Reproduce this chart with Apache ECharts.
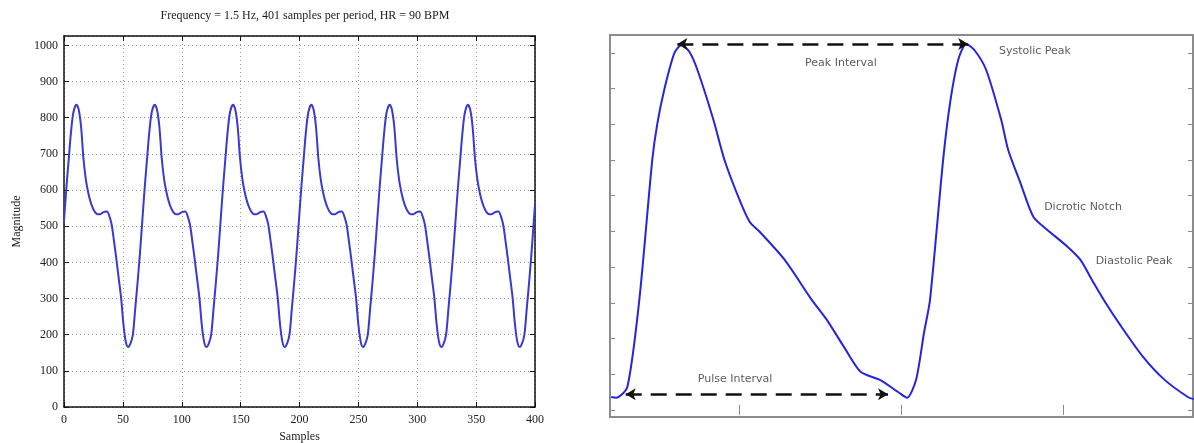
<!DOCTYPE html>
<html>
<head>
<meta charset="utf-8">
<script src="https://cdn.jsdelivr.net/npm/echarts@6/dist/echarts.min.js"></script>
<style>
html,body{margin:0;padding:0;background:#fff;}
#chart{width:1194px;height:443px;}
</style>
</head>
<body>
<div id="chart"></div>
<script>
// ---------- Left panel: synthetic PPG, 6 pulses over 400 samples ----------
const leftTitle = 'Frequency = 1.5 Hz, 401 samples per period, HR = 90 BPM';
const samples = [0,2,4,6,8,
10.5,12.5,14.5,16.5,18.5,20.5,22.5,24.5,26.5,28.5,30.5,32.5,34.5,36.5,38.5,40.5,42.5,44.5,46.5,48.5,50.5,52.5,54.5,56.5,58.5,60.5,62.5,64.5,66.5,68.5,70.5,72.5,74.5,
77,79,81,83,85,87,89,91,93,95,97,99,101,103,105,107,109,111,113,115,117,119,121,123,125,127,129,131,133,135,137,139,141,
143.5,145.5,147.5,149.5,151.5,153.5,155.5,157.5,159.5,161.5,163.5,165.5,167.5,169.5,171.5,173.5,175.5,177.5,179.5,181.5,183.5,185.5,187.5,189.5,191.5,193.5,195.5,197.5,199.5,201.5,203.5,205.5,207.5,
210,212,214,216,218,220,222,224,226,228,230,232,234,236,238,240,242,244,246,248,250,252,254,256,258,260,262,264,266,268,270,272,274,
276.5,278.5,280.5,282.5,284.5,286.5,288.5,290.5,292.5,294.5,296.5,298.5,300.5,302.5,304.5,306.5,308.5,310.5,312.5,314.5,316.5,318.5,320.5,322.5,324.5,326.5,328.5,330.5,332.5,334.5,336.5,338.5,340.5,
343,345,347,349,351,353,355,357,359,361,363,365,367,369,371,373,375,377,379,381,383,385,387,389,391,393,395,397,399,400];
const magnitude = [515,605,685,762,815,
836,822,775,688,630,594,568,550,538,533,533,537,540,541,528,504,458,408,355,302,228,180,166,176,200,272,345,425,515,605,685,762,815,
836,822,775,688,630,594,568,550,538,533,533,537,540,541,528,504,458,408,355,302,228,180,166,176,200,272,345,425,515,605,685,762,815,
836,822,775,688,630,594,568,550,538,533,533,537,540,541,528,504,458,408,355,302,228,180,166,176,200,272,345,425,515,605,685,762,815,
836,822,775,688,630,594,568,550,538,533,533,537,540,541,528,504,458,408,355,302,228,180,166,176,200,272,345,425,515,605,685,762,815,
836,822,775,688,630,594,568,550,538,533,533,537,540,541,528,504,458,408,355,302,228,180,166,176,200,272,345,425,515,605,685,762,815,
836,822,775,688,630,594,568,550,538,533,533,537,540,541,528,504,458,408,355,302,228,180,166,176,200,272,345,425,515,560];
const leftXMax = 400;
const leftYMax = 1026;

// ---------- Right panel: annotated PPG pulse ----------
const rightX = [0.207,0.238,0.307,0.381,0.461,0.492,0.536,0.598,0.641,0.69,0.740,0.839,0.907,1.0,1.062,1.124,1.279,1.446,1.539,1.656,1.749,1.867,1.985,2.034,2.090,2.139,2.176,2.257,2.300,2.350,2.399,2.45,2.523,2.616,2.659,2.734,2.814,2.901,3.025,3.105,3.186,3.26,3.347,3.489,3.625,3.768,3.805];
const rightY = [0.36,0.34,0.64,3.08,7.00,8.01,8.99,10.0,10.22,10.03,9.52,8.12,7.00,5.88,5.27,4.99,4.20,3.08,2.52,1.68,1.06,0.84,0.48,0.34,0.84,2.16,3.08,7.00,8.60,9.80,10.25,10.08,9.52,8.12,7.28,6.36,5.41,5.04,4.57,4.20,3.56,3.00,2.40,1.50,0.84,0.36,0.30];
const rightXTicks = [1,2,3];
const rightYTicks = [0,1,2,3,4,5,6,7,8,9,10];
const peakIntervalX = [0.616, 2.412];
const peakIntervalY = 10.25;
const pulseIntervalX = [0.297, 1.917];
const pulseIntervalY = 0.44;
const annotationText = ['Peak Interval','Systolic Peak','Dicrotic Notch','Diastolic Peak','Pulse Interval'];
const annotationX = [1.626, 2.824, 3.121, 3.436, 0.972];
const annotationY = [9.72, 10.05, 5.68, 4.17, 0.86];

const chart = echarts.init(document.getElementById('chart'), null, {renderer: 'canvas'});

const serif = 'Liberation Serif';
const sans = 'DejaVu Sans';

const leftPts = samples.map((s, i) => [s, magnitude[i]]);
const rightPts = rightX.map((x, i) => [x, rightY[i]]);
const annPts = annotationText.map((t, i) => ({name: t, value: [annotationX[i], annotationY[i]]}));

const gridLineStyle = {color: '#9a9a9a', width: 1, type: [1, 3]};

const option = {
  backgroundColor: '#fff',
  animation: false,
  title: {
    text: leftTitle,
    left: 300,
    top: 5,
    textAlign: 'center',
    textStyle: {fontFamily: serif, fontSize: 12, fontWeight: 'normal', color: '#222'}
  },
  grid: [
    {left: 64, top: 36, width: 471, height: 371, show: false, containLabel: false, outerBoundsMode: 'none'},
    {left: 610, top: 35, width: 583, height: 382, show: true, borderColor: '#8c8c8c', borderWidth: 2,
     backgroundColor: 'transparent', containLabel: false, outerBoundsMode: 'none'}
  ],
  xAxis: [
    {
      gridIndex: 0, type: 'value', min: 0, max: leftXMax, interval: 50, position: 'bottom',
      name: 'Samples', nameLocation: 'middle', nameGap: 24,
      nameTextStyle: {fontFamily: serif, fontSize: 12, color: '#222'},
      axisLine: {show: true, onZero: false, lineStyle: {color: '#111', width: 1.5}},
      axisTick: {show: true, inside: true, length: 5, lineStyle: {color: '#111'}},
      axisLabel: {fontFamily: serif, fontSize: 12, color: '#222', margin: 7},
      splitLine: {show: true, lineStyle: gridLineStyle}
    },
    {
      gridIndex: 0, type: 'value', min: 0, max: leftXMax, interval: 50, position: 'top',
      axisLine: {show: true, onZero: false, lineStyle: {color: '#111', width: 1.5}},
      axisTick: {show: true, inside: true, length: 5, lineStyle: {color: '#111'}},
      axisLabel: {show: false}, splitLine: {show: false}
    },
    {
      gridIndex: 1, type: 'value', min: 0.2, max: 3.8, position: 'bottom',
      axisLine: {show: false},
      axisTick: {show: true, inside: true, length: 5, customValues: rightXTicks, lineStyle: {color: '#888'}},
      axisLabel: {show: false}, splitLine: {show: false}
    },
    {
      gridIndex: 1, type: 'value', min: 0.2, max: 3.8, position: 'top',
      axisLine: {show: false},
      axisTick: {show: true, inside: true, length: 5, customValues: rightXTicks, lineStyle: {color: '#888'}},
      axisLabel: {show: false}, splitLine: {show: false}
    }
  ],
  yAxis: [
    {
      gridIndex: 0, type: 'value', min: 0, max: leftYMax, interval: 100, position: 'left',
      name: 'Magnitude', nameLocation: 'middle', nameGap: 41,
      nameTextStyle: {fontFamily: serif, fontSize: 12, color: '#222'},
      axisLine: {show: true, onZero: false, lineStyle: {color: '#111', width: 1.5}},
      axisTick: {show: true, inside: true, length: 5, lineStyle: {color: '#111'}},
      axisLabel: {fontFamily: serif, fontSize: 12, color: '#222', margin: 6, showMaxLabel: false,
                  formatter: v => String(v)},
      splitLine: {show: true, lineStyle: gridLineStyle}
    },
    {
      gridIndex: 0, type: 'value', min: 0, max: leftYMax, interval: 100, position: 'right',
      axisLine: {show: true, onZero: false, lineStyle: {color: '#111', width: 1.5}},
      axisTick: {show: true, inside: true, length: 5, lineStyle: {color: '#111'}},
      axisLabel: {show: false}, splitLine: {show: false}
    },
    {
      gridIndex: 1, type: 'value', min: -0.2, max: 10.5, position: 'left',
      axisLine: {show: false},
      axisTick: {show: true, inside: true, length: 5, customValues: rightYTicks, lineStyle: {color: '#888'}},
      axisLabel: {show: false}, splitLine: {show: false}
    },
    {
      gridIndex: 1, type: 'value', min: -0.2, max: 10.5, position: 'right',
      axisLine: {show: false},
      axisTick: {show: true, inside: true, length: 5, customValues: rightYTicks, lineStyle: {color: '#888'}},
      axisLabel: {show: false}, splitLine: {show: false}
    }
  ],
  series: [
    {
      type: 'line', xAxisIndex: 0, yAxisIndex: 0, data: leftPts,
      showSymbol: false, smooth: 0.3, silent: true,
      lineStyle: {color: '#3a3ad0', width: 2}
    },
    {
      type: 'line', xAxisIndex: 2, yAxisIndex: 2, data: rightPts,
      showSymbol: false, smooth: 0.25, silent: true,
      lineStyle: {color: '#2525dd', width: 2},
      markLine: {
        silent: true, symbol: ['arrow', 'arrow'], symbolSize: [9, 10],
        label: {show: false},
        lineStyle: {color: '#111', width: 2.5, type: [16, 9]},
        emphasis: {disabled: true},
        data: [
          [{coord: [peakIntervalX[0], peakIntervalY]}, {coord: [peakIntervalX[1], peakIntervalY]}],
          [{coord: [pulseIntervalX[0], pulseIntervalY]}, {coord: [pulseIntervalX[1], pulseIntervalY]}]
        ]
      }
    },
    {
      type: 'scatter', xAxisIndex: 2, yAxisIndex: 2, data: annPts,
      symbolSize: 1, itemStyle: {color: 'transparent'}, silent: true,
      label: {show: true, position: 'inside', formatter: '{b}', fontFamily: sans, fontSize: 11, color: '#333'}
    }
  ]
};
chart.setOption(option);
</script>
</body>
</html>
